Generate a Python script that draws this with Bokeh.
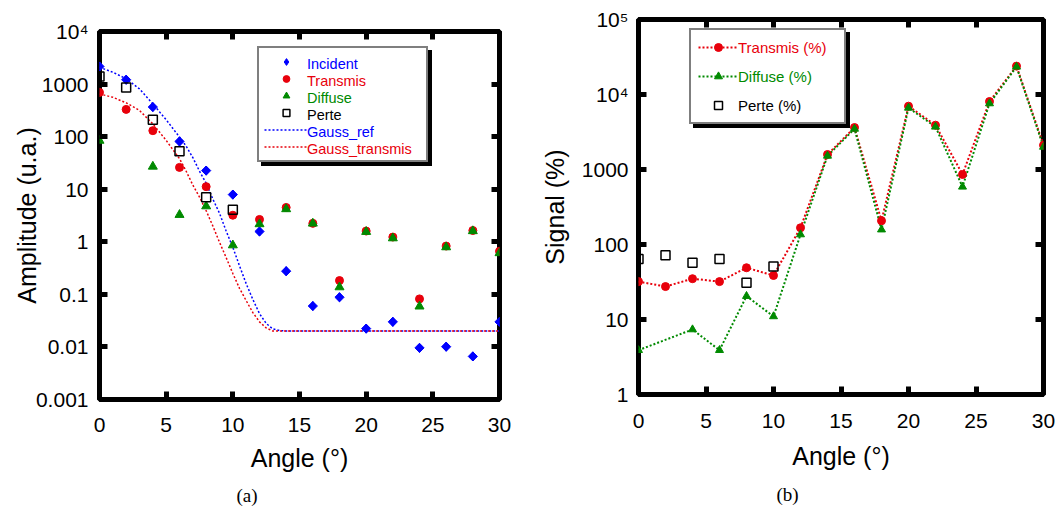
import numpy as np
from bokeh.plotting import figure
from bokeh.models import (Range1d, LinearAxis, LogAxis, FixedTicker, CustomJSTickFormatter,
                          Legend, LegendItem, Title, Spacer)
from bokeh.layouts import row, column
from bokeh.embed import file_html
from bokeh.resources import INLINE

FONT = "Liberation Sans"
SERIF = "Liberation Serif"
BLUE = "#0000ff"
RED = "#e8000b"
GREEN = "#008a00"

# ---------------- data (a) ----------------
angles = [0, 2, 4, 6, 8, 10, 12, 14, 16, 18, 20, 22, 24, 26, 28, 30]
incident = [2160, 1210, 366, 81, 22.6, 7.9, 1.57, 0.276, 0.060, 0.088, 0.0223, 0.030, 0.0096, 0.0101, 0.0066, 0.030]
transmis = [695, 330, 130, 26, 11.2, 3.2, 2.66, 4.5, 2.24, 0.183, 1.6, 1.23, 0.082, 0.83, 1.64, 0.66]
diffuse = [84, np.nan, 27, 3.26, 4.75, 0.86, 2.17, 4.19, 2.23, 0.137, 1.55, 1.17, 0.059, 0.79, 1.6, 0.61]
perte_angles = [0, 2, 4, 6, 8, 10]
perte = [1400, 865, 210, 53, 7.0, 4.05]

gauss_angles = [0, 1, 2, 3, 4, 5, 6, 6.5, 7, 7.5, 8, 8.5, 9, 9.5, 10, 10.5, 11, 11.5, 12, 12.5, 13, 13.5, 14, 30]
gauss_ref = [2090, 1680, 1260, 810, 420, 210, 98, 66, 40, 22, 13, 6.5, 3.5, 1.6, 0.78, 0.35, 0.16, 0.08,
             0.043, 0.028, 0.022, 0.0205, 0.02, 0.02]
gauss_transmis = [650, 560, 440, 315, 175, 85, 38, 22, 12, 7.1, 3.9, 2.0, 0.98, 0.5, 0.25, 0.13, 0.076, 0.045,
                  0.030, 0.023, 0.020, 0.02, 0.02, 0.02]

# ---------------- data (b) ----------------
transmis_pct = [32, 27.5, 35, 32, 49, 38.6, 167, 1585, 3630, 207, 6990, 3900, 858, 8070, 23900, 2110]
diffuse_pct = [3.9, np.nan, 7.36, 3.9, 20.5, 11, 136, 1520, 3480, 158, 6640, 3710, 588, 7590, 23400, 2000]
perte_pct = [64, 72, 57, 64, 30.8, 51]

x_ticks = [0, 5, 10, 15, 20, 25, 30]

fmt_code = """
if (Math.abs(tick - 10000) < 1) return "10\u2074";
if (Math.abs(tick - 100000) < 1) return "10\u2075";
if (tick >= 1) return tick.toFixed(0);
return String(parseFloat(tick.toPrecision(1)));
"""
blank_code = "return '';"


def style_axis(ax, labels=True):
    ax.axis_line_color = None
    ax.major_tick_in = 8
    ax.major_tick_out = 0
    ax.major_tick_line_width = 5
    ax.major_tick_line_color = "black"
    ax.minor_tick_line_color = None
    ax.major_label_text_font = FONT
    ax.major_label_text_font_size = "21px"
    ax.major_label_text_color = "black"
    ax.axis_label_text_font = FONT
    ax.axis_label_text_font_style = "normal"
    ax.axis_label_text_color = "black"
    if not labels:
        ax.formatter = CustomJSTickFormatter(code=blank_code)
        ax.major_label_text_font_size = "1px"
        ax.major_label_standoff = 0


def make_fig(frame_w, frame_h, ymin, ymax, yticks, bl, br, bt, bb):
    p = figure(frame_width=frame_w, frame_height=frame_h,
               x_range=Range1d(0, 30), y_range=Range1d(ymin, ymax), y_axis_type="log",
               output_backend="svg", toolbar_location=None,
               min_border_left=bl, min_border_right=br, min_border_top=bt, min_border_bottom=bb)
    p.grid.visible = False
    p.outline_line_color = "black"
    p.outline_line_width = 5
    p.background_fill_color = "white"
    p.border_fill_color = "white"
    bottom = p.below[0]
    left = p.left[0]
    bottom.ticker = FixedTicker(ticks=x_ticks, minor_ticks=[])
    left.ticker = FixedTicker(ticks=yticks, minor_ticks=[])
    left.formatter = CustomJSTickFormatter(code=fmt_code)
    style_axis(bottom)
    style_axis(left)
    top = LinearAxis(ticker=FixedTicker(ticks=x_ticks, minor_ticks=[]))
    style_axis(top, labels=False)
    p.add_layout(top, "above")
    right = LogAxis(ticker=FixedTicker(ticks=yticks, minor_ticks=[]))
    style_axis(right, labels=False)
    p.add_layout(right, "right")
    return p, bottom, left


def add_legend(p, items, loc, padding, row_h, spacing, font_size, glyph_w, standoff, text_dy, label_w):
    n = len(items)
    common = dict(padding=padding, spacing=spacing, glyph_height=row_h, label_height=row_h,
                  glyph_width=glyph_w, label_standoff=standoff, label_text_font=FONT,
                  label_text_font_size=font_size, margin=0)
    dummy = p.scatter(x=[], y=[], size=1, fill_alpha=0, line_alpha=0)
    shadow = Legend(items=[LegendItem(label=" ", renderers=r) for t, r, _ in items],
                    location=(loc[0] + 4, loc[1] - 4), background_fill_color="black",
                    background_fill_alpha=1, border_line_color="black", border_line_width=2,
                    label_text_alpha=0, label_width=label_w, **common)
    p.add_layout(shadow)
    main = Legend(items=[LegendItem(label=" ", renderers=r) for t, r, _ in items],
                  location=loc, background_fill_color="white", background_fill_alpha=1,
                  border_line_color="black", border_line_width=2, label_text_alpha=0,
                  label_width=label_w, **common)
    p.add_layout(main)
    for i, (t, r, c) in enumerate(items):
        ov = Legend(items=[LegendItem(label=t, renderers=[dummy])],
                    location=(loc[0], loc[1] + (n - 1 - i) * (row_h + spacing) + text_dy),
                    background_fill_alpha=0, border_line_color=None, label_text_color=c, **common)
        p.add_layout(ov)


# ---------------- figure (a) ----------------
p1, b1, l1 = make_fig(400, 368, 0.001, 1e4, [0.001, 0.01, 0.1, 1, 10, 100, 1000, 10000], 99, 38, 19, 116)
b1.axis_label = "Angle (°)"
l1.axis_label = "Amplitude (u.a.)"
b1.axis_label_text_font_size = "25px"
l1.axis_label_text_font_size = "25px"
b1.major_label_standoff = 18
l1.major_label_standoff = 11
b1.axis_label_standoff = 9
l1.axis_label_standoff = -8

r_gr = p1.line(gauss_angles, gauss_ref, line_color=BLUE, line_width=1.5, line_dash="2 2")
r_gt = p1.line(gauss_angles, gauss_transmis, line_color=RED, line_width=1.5, line_dash="2 2")
# legend key glyph (diamond), fully hidden under the rotated squares drawn next
r_inc_key = p1.scatter(angles, incident, marker="diamond", size=9, color=BLUE)
r_inc = p1.scatter(angles, incident, marker="square", angle=0.785398, size=6.5, color=BLUE)
r_tra = p1.scatter(angles, transmis, marker="circle", size=8, color=RED)
d_arr = np.array(diffuse, dtype=float)
a_arr = np.array(angles, dtype=float)
ok = ~np.isnan(d_arr)
r_dif = p1.scatter(a_arr[ok], d_arr[ok], marker="triangle", size=9, color=GREEN)
r_per = p1.scatter(perte_angles, perte, marker="square", size=9, fill_color=None,
                   line_color="black", line_width=1.5)

add_legend(p1, [("Incident", [r_inc_key], BLUE), ("Transmis", [r_tra], RED), ("Diffuse", [r_dif], GREEN),
                ("Perte", [r_per], "black"), ("Gauss_ref", [r_gr], BLUE),
                ("Gauss_transmis", [r_gt], RED)],
           loc=(158, 237), padding=5, row_h=17, spacing=0, font_size="14.5px", glyph_w=44,
           standoff=6, text_dy=5, label_w=107)

p1.add_layout(Title(text="(a)", align="left", offset=137, text_font=SERIF, text_font_size="19px",
                    text_font_style="normal", text_color="black", standoff=16), "below")

# ---------------- figure (b) ----------------
p2, b2, l2 = make_fig(405, 375, 1, 1e5, [1, 10, 100, 1000, 10000, 100000], 99, 14, 19, 121)
b2.axis_label = "Angle (°)"
l2.axis_label = "Signal (%)"
b2.axis_label_text_font_size = "25px"
l2.axis_label_text_font_size = "25px"
b2.major_label_standoff = 19
l2.major_label_standoff = 10
b2.axis_label_standoff = 11
l2.axis_label_standoff = 10

t_arr = np.array(transmis_pct, dtype=float)
dp_arr = np.array(diffuse_pct, dtype=float)
okd = ~np.isnan(dp_arr)
l_t = p2.line(a_arr, t_arr, line_color=RED, line_width=2, line_dash="2 2")
l_d = p2.line(a_arr[okd], dp_arr[okd], line_color=GREEN, line_width=2, line_dash="2 2")
s_t = p2.scatter(a_arr, t_arr, marker="circle", size=8, color=RED)
s_d = p2.scatter(a_arr[okd], dp_arr[okd], marker="triangle", size=8, color=GREEN)
s_p = p2.scatter(perte_angles, perte_pct, marker="square", size=9, fill_color=None,
                 line_color="black", line_width=1.5)

add_legend(p2, [("Transmis (%)", [l_t, s_t], RED), ("Diffuse (%)", [l_d, s_d], GREEN),
                ("Perte (%)", [s_p], "black")],
           loc=(51, 270), padding=7, row_h=20, spacing=9, font_size="15px", glyph_w=40,
           standoff=9, text_dy=9, label_w=90)

p2.add_layout(Title(text="(b)", align="left", offset=138, text_font=SERIF, text_font_size="19px",
                    text_font_style="normal", text_color="black", standoff=18), "below")

layout = row(column(Spacer(width=537, height=12), p1), p2)
open("out.html", "w").write(file_html(layout, INLINE))
